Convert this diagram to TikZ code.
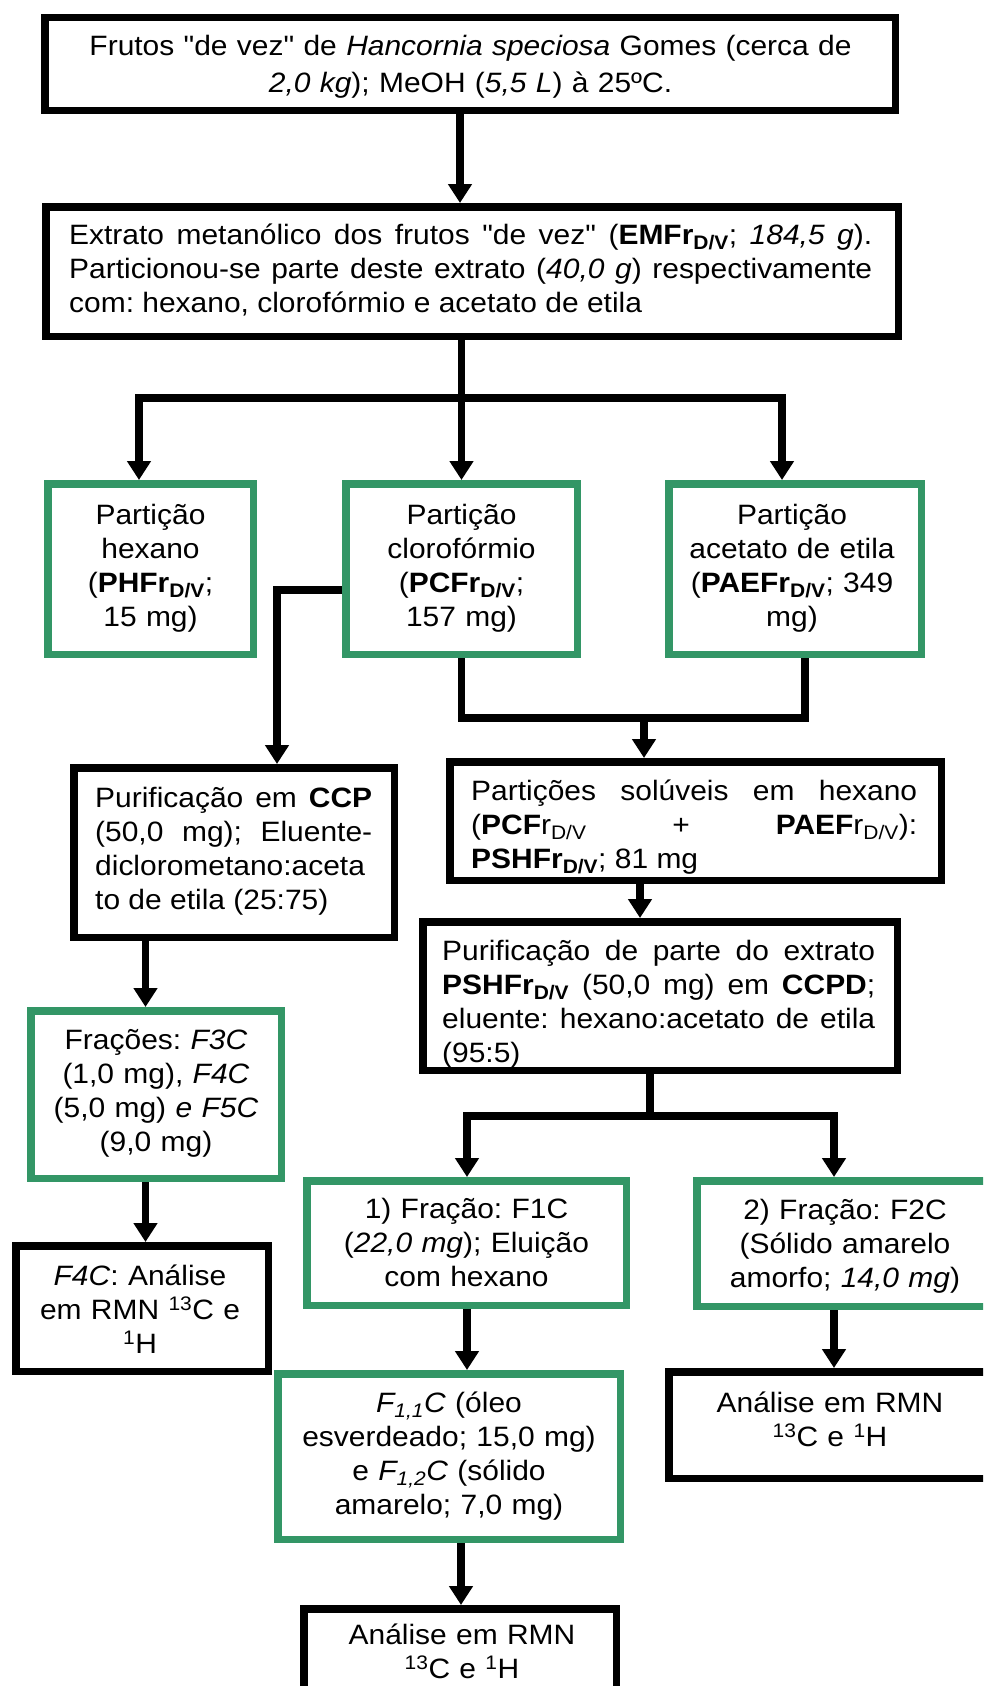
\documentclass[tikz,border=0pt]{standalone}
\usepackage{fontspec}
\setmainfont{Liberation Sans}[Ligatures=TeXOff, FakeStretch=1.07]
\usetikzlibrary{arrows.meta}
\definecolor{boxgreen}{RGB}{51,150,102}
% body text: 28pt on 34pt, fixed line pitch
\newcommand\fsz{\fontsize{28pt}{34pt}\selectfont\frenchspacing\lineskiplimit=-50pt\lineskip=0pt\tolerance=10000\hbadness=10000\relax}
\newcommand\fszwide{\fontsize{28pt}{37pt}\selectfont\frenchspacing\lineskiplimit=-50pt\lineskip=0pt\relax}
% fixes the height of the first line so its baseline sits 29pt under the node top
\newcommand\firstln{\rule{0pt}{29pt}}

\begin{document}
\begin{tikzpicture}[x=1pt,y=-1pt,
  box/.style={draw=black, line width=7.5pt, fill=white, inner sep=0pt},
  gbox/.style={box, draw=boxgreen},
  ctext/.style={anchor=north, inner sep=0pt, font=\fsz, align=center},
  jtext/.style={anchor=north west, inner sep=0pt, font=\fsz, align=justify},
  conn/.style={line width=7.5pt},
  arr/.style={conn, -{Triangle[length=19pt,width=23pt]}},
  arrs/.style={conn, {Triangle[length=19pt,width=23pt]}-{Triangle[length=19pt,width=23pt]}},
]
\fill[white] (0,0) rectangle (983,1686);
\useasboundingbox (0,0) rectangle (983,1686);
\clip (0,0) rectangle (983,1686);

% ---------- boxes ----------
\node[box, minimum width=850.5pt, minimum height=92.5pt] (b1) at (470,64) {};
\node[ctext, text width=840pt, font=\fszwide] (b1t) at (470.5,26)
  {\firstln Frutos "de vez" de \textit{Hancornia speciosa} Gomes (cerca de\\\textit{2,0 kg}); MeOH (\textit{5,5 L}) à 25ºC.};

\node[box, minimum width=852.5pt, minimum height=129.5pt] (b2) at (472,271.5) {};
\node[jtext, text width=803pt] (b2t) at (69,215)
  {\noindent\firstln Extrato metanólico dos frutos "de vez" (\textbf{EMFr\textsubscript{D/V}}; \textit{184,5 g}).\linebreak
   Particionou-se parte deste extrato (\textit{40,0 g}) respectivamente\linebreak
   com: hexano, clorofórmio e acetato de etila};

\node[gbox, minimum width=205.5pt, minimum height=170.5pt] (ph) at (150.5,569) {};
\node[ctext, text width=200pt] (pht) at (150.5,495)
  {\firstln Partição\\hexano\\(\textbf{PHFr\textsubscript{D/V}};\\15 mg)};

\node[gbox, minimum width=231.5pt, minimum height=170.5pt] (pc) at (461.5,569) {};
\node[ctext, text width=225pt] (pct) at (461.5,495)
  {\firstln Partição\\clorofórmio\\(\textbf{PCFr\textsubscript{D/V}};\\157 mg)};

\node[gbox, minimum width=252.5pt, minimum height=170.5pt] (pae) at (795,569) {};
\node[ctext, text width=245pt] (paet) at (792,495)
  {\firstln Partição\\acetato de etila\\(\textbf{PAEFr\textsubscript{D/V}}; 349\\mg)};

\node[box, minimum width=320.5pt, minimum height=169.5pt] (ccp) at (234,852.5) {};
\node[jtext, text width=277pt] (ccpt) at (95,778)
  {\noindent\firstln Purificação em \textbf{CCP}\linebreak
   (50,0 mg); Eluente-\linebreak
   diclorometano:aceta\linebreak
   to de etila (25:75)};

\node[box, minimum width=491.5pt, minimum height=118.5pt] (psh) at (695.5,821) {};
\node[jtext, text width=446pt] (psht) at (471,771)
  {\noindent\firstln Partições solúveis em hexano\linebreak
   (\textbf{PCF}r\textsubscript{D/V} + \textbf{PAEF}r\textsubscript{D/V}):\linebreak
   \textbf{PSHFr\textsubscript{D/V}}; 81 mg};

\node[box, minimum width=474.5pt, minimum height=148.5pt] (ccpd) at (660,996) {};
\node[jtext, text width=433pt] (ccpdt) at (442,931)
  {\noindent\firstln Purificação de parte do extrato\linebreak
   \textbf{PSHFr\textsubscript{D/V}} (50,0 mg) em \textbf{CCPD};\linebreak
   eluente: hexano:acetato de etila\linebreak
   (95:5)};

\node[gbox, minimum width=250.5pt, minimum height=167.5pt] (fr) at (156,1094.5) {};
\node[ctext, text width=245pt] (frt) at (156,1020)
  {\firstln Frações: \textit{F3C}\\(1,0 mg), \textit{F4C}\\(5,0 mg) \textit{e F5C}\\(9,0 mg)};

\node[box, minimum width=252.5pt, minimum height=125.5pt] (f4c) at (142,1308.5) {};
\node[ctext, text width=245pt] (f4ct) at (140,1256)
  {\firstln\textit{F4C}: Análise\\em RMN \textsuperscript{13}C e\\\textsuperscript{1}H};

\node[gbox, minimum width=319.5pt, minimum height=124.5pt] (f1c) at (466.5,1243) {};
\node[ctext, text width=310pt] (f1ct) at (466.5,1189)
  {\firstln 1) Fração: F1C\\(\textit{22,0 mg}); Eluição\\com hexano};

\node[gbox, minimum width=296.5pt, minimum height=125.5pt] (f2c) at (845,1243.5) {};
\node[ctext, text width=290pt] (f2ct) at (845,1190)
  {\firstln 2) Fração: F2C\\(Sólido amarelo\\amorfo; \textit{14,0 mg})};

\node[box, minimum width=322.5pt, minimum height=106.5pt] (anr) at (830,1425) {};
\node[ctext, text width=315pt] (anrt) at (830,1383)
  {\firstln Análise em RMN\\\textsuperscript{13}C e \textsuperscript{1}H};

\node[gbox, minimum width=342.5pt, minimum height=165.5pt] (f11) at (449,1456.5) {};
\node[ctext, text width=335pt] (f11t) at (449,1383)
  {\firstln\textit{F\textsubscript{1,1}C} (óleo\\esverdeado; 15,0 mg)\\e \textit{F\textsubscript{1,2}C} (sólido\\amarelo; 7,0 mg)};

\node[box, minimum width=312.5pt, minimum height=117.5pt] (anb) at (460,1667.5) {};
\node[ctext, text width=305pt] (anbt) at (462,1615)
  {\firstln Análise em RMN\\\textsuperscript{13}C e \textsuperscript{1}H};

% ---------- connectors ----------
\coordinate (a1) at (460,0);
\draw[arr] (b1.south -| a1) -- (b2.north -| a1);

\draw[arr] (b2.south -| pc.north) -- (pc.north);
\coordinate (sL) at (139,398);
\coordinate (sR) at (782,398);
\draw[arrs] (ph.north -| sL) -- (sL) -- (sR) -- (pae.north -| sR);

\coordinate (c1) at (277,590);
\draw[arr] (pc.west |- c1) -| (ccp.north -| c1);

\coordinate (j2) at (644,718);
\coordinate (j2r) at (805,718);
\draw[conn] (pc.south) |- (j2r) -- (pae.south -| j2r);
\draw[arr] (j2) -- (psh.north -| j2);

\coordinate (a2) at (640,0);
\draw[arr] (psh.south -| a2) -- (ccpd.north -| a2);

\coordinate (a3) at (145.5,0);
\draw[arr] (ccp.south -| a3) -- (fr.north -| a3);
\draw[arr] (fr.south -| a3) -- (f4c.north -| a3);

\coordinate (j3) at (650,1116);
\coordinate (j3l) at (467,1116);
\coordinate (j3r) at (834,1116);
\draw[conn] (ccpd.south -| j3) -- (j3);
\draw[arrs] (f1c.north -| j3l) -- (j3l) -- (j3r) -- (f2c.north -| j3r);
\draw[arr] (f1c.south -| j3l) -- (f11.north -| j3l);
\draw[arr] (f2c.south -| j3r) -- (anr.north -| j3r);

\coordinate (a4) at (461,0);
\draw[arr] (f11.south -| a4) -- (anb.north -| a4);
\end{tikzpicture}
\end{document}
